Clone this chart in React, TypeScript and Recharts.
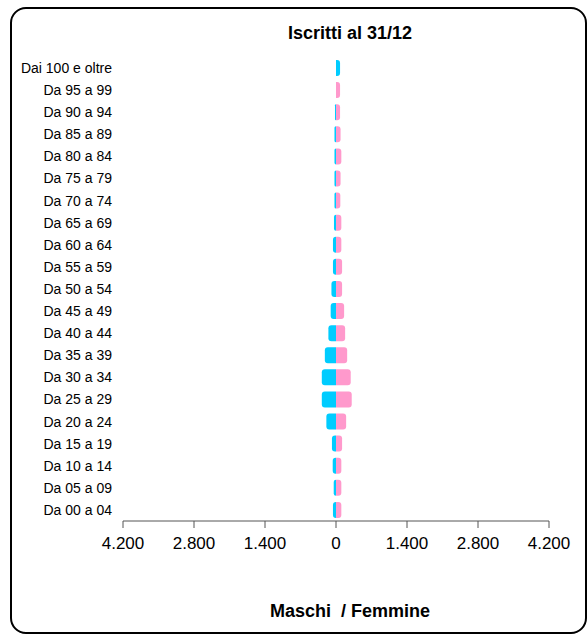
import { Bar, BarChart, Cell, XAxis, YAxis } from 'recharts'

const ages = [
  'Dai 100 e oltre',
  'Da 95 a 99',
  'Da 90 a 94',
  'Da 85 a 89',
  'Da 80 a 84',
  'Da 75 a 79',
  'Da 70 a 74',
  'Da 65 a 69',
  'Da 60 a 64',
  'Da 55 a 59',
  'Da 50 a 54',
  'Da 45 a 49',
  'Da 40 a 44',
  'Da 35 a 39',
  'Da 30 a 34',
  'Da 25 a 29',
  'Da 20 a 24',
  'Da 15 a 19',
  'Da 10 a 14',
  'Da 05 a 09',
  'Da 00 a 04',
]

// males are drawn to the left, so they're negated when the table is built
const maschi = [0, 0, 20, 30, 30, 30, 30, 40, 60, 60, 90, 105, 150, 220, 280, 280, 190, 80, 65, 45, 60]
const femmine = [80, 80, 80, 90, 105, 90, 85, 105, 105, 120, 120, 160, 180, 220, 290, 310, 200, 120, 105, 105, 105]

const xTicks = [-4200, -2800, -1400, 0, 1400, 2800, 4200]

const BLUE = '#00ccff'
const PINK = '#ff99cc'
const FONT = '"Liberation Sans", Arial, sans-serif'

const data = ages.map((age, i) => ({ age, maschi: -maschi[i], femmine: femmine[i] }))

const fmt = (v: number) => String(Math.abs(v)).replace(/\B(?=(\d{3})+(?!\d))/g, '.')

// rect rounded only on the outer side (away from the zero line)
function halfRounded(side: 'left' | 'right') {
  return (props: any) => {
    const { x, y, width, height, fill } = props
    const left = Math.min(x, x + width)
    const w = Math.abs(width)
    if (!w || !height) return <g />
    const r = Math.min(3, w, height / 2)
    const d =
      side === 'left'
        ? `M${left + w},${y} H${left + r} Q${left},${y} ${left},${y + r} V${y + height - r} Q${left},${y + height} ${left + r},${y + height} H${left + w} Z`
        : `M${left},${y} H${left + w - r} Q${left + w},${y} ${left + w},${y + r} V${y + height - r} Q${left + w},${y + height} ${left + w - r},${y + height} H${left} Z`
    return <path d={d} fill={fill} />
  }
}

// both captions sit centred around x = 350 in the original
const caption = { position: 'absolute' as const, left: 0, width: 700, textAlign: 'center' as const, fontSize: 18, fontWeight: 'bold' as const, lineHeight: '21px', whiteSpace: 'pre' as const }

export default function App() {
  return (
    <div style={{ position: 'fixed', left: 0, top: 0, width: 587, height: 634, background: '#fff', fontFamily: FONT, overflow: 'hidden' }}>
      <div
        style={{
          position: 'absolute',
          left: 10,
          top: 7,
          width: 577,
          height: 627,
          boxSizing: 'border-box',
          border: '2px solid #000',
          borderRadius: 16,
        }}
      />
      <div style={{ ...caption, top: 23 }}>Iscritti al 31/12</div>
      <BarChart
        width={587}
        height={634}
        data={data}
        layout="vertical"
        stackOffset="sign"
        barSize={16}
        margin={{ top: 57, right: 38, bottom: 83, left: 0 }}
        style={{ position: 'absolute', left: 0, top: 0 }}
      >
        <XAxis
          type="number"
          domain={[-4200, 4200]}
          ticks={xTicks}
          tickFormatter={fmt}
          stroke="#555"
          tickSize={7}
          tickMargin={9}
          tick={{ fill: '#000', fontSize: 17, fontFamily: FONT }}
          height={30}
        />
        <YAxis
          type="category"
          dataKey="age"
          width={123}
          axisLine={false}
          tickLine={false}
          tickMargin={5}
          interval={0}
          tick={{ fill: '#000', fontSize: 14, fontFamily: FONT }}
        />
        <Bar dataKey="maschi" stackId="a" fill={BLUE} shape={halfRounded('left')} isAnimationActive={false} />
        <Bar dataKey="femmine" stackId="a" fill={PINK} shape={halfRounded('right')} isAnimationActive={false}>
          {data.map((d, i) => (
            <Cell key={d.age} fill={i === 0 ? BLUE : PINK} />
          ))}
        </Bar>
      </BarChart>
      <div style={{ ...caption, top: 601 }}>{'Maschi  / Femmine'}</div>
    </div>
  )
}
